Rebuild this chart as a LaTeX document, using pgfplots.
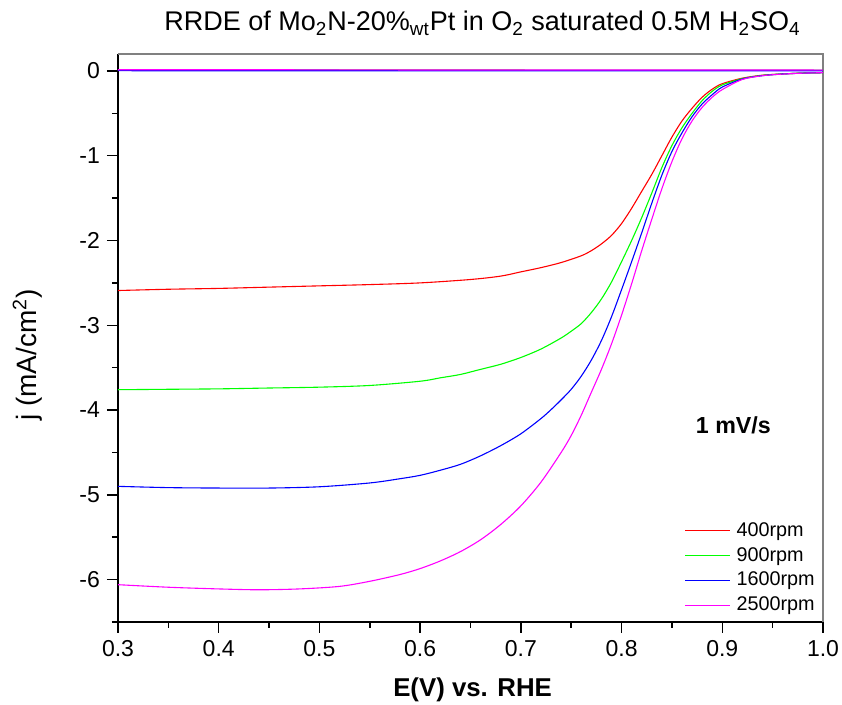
\documentclass[border=0pt]{standalone}
\usepackage{pgfplots}
\pgfplotsset{compat=1.18}
\usepackage{fontspec}
\setmainfont{Liberation Sans}
\definecolor{cred}{RGB}{255,0,0}
\definecolor{cgreen}{RGB}{0,255,0}
\definecolor{cblue}{RGB}{0,0,255}
\definecolor{cmag}{RGB}{255,0,255}
\begin{document}
\begin{tikzpicture}
\path[use as bounding box] (-59pt,-41.5pt) rectangle (362pt,311pt);
\begin{axis}[
  at={(0,0)}, anchor=south west,
  scale only axis, width=352.5pt, height=284pt,
  xmin=0.3, xmax=1.0, ymin=-6.5, ymax=0.2,
  axis x line=bottom, axis y line=left,
  x axis line style={-, line width=1pt},
  y axis line style={-, line width=1pt},
  xtick={0.3,0.4,0.5,0.6,0.7,0.8,0.9,1.0},
  minor xtick={0.35,0.45,0.55,0.65,0.75,0.85,0.95},
  ytick={-6,-5,-4,-3,-2,-1,0},
  minor ytick={-6.5,-5.5,-4.5,-3.5,-2.5,-1.5,-0.5},
  tick align=outside,
  major tick length=5.5pt, minor tick length=3pt,
  every tick/.append style={black, line width=0.75pt},
  tick label style={font=\fontsize{11.5}{13}\selectfont},
  /pgf/number format/assume math mode=true,
  xticklabel style={/pgf/number format/.cd, fixed, fixed zerofill, precision=1},
  yticklabel style={/pgf/number format/.cd, fixed, precision=1},
  xlabel={\bfseries E(V) vs. RHE},
  xlabel style={font=\fontsize{12.9}{15}\selectfont, at={(axis description cs:0.503,-0.12)}, anchor=center},
  ylabel={j (mA/cm\textsuperscript{2})},
  ylabel style={font=\fontsize{14}{16}\selectfont, at={(axis description cs:-0.128,0.47)}, anchor=center, rotate=0},
  clip mode=individual,
  legend cell align=left,
  legend style={draw=none, fill=none, at={(axis description cs:0.803,0.183)}, anchor=north west,
    font=\fontsize{9.9}{11.5}\selectfont, row sep=0pt, inner sep=0pt,
    /tikz/every odd column/.append style={column sep=1pt}},
  legend image code/.code={\draw[#1, line width=0.55pt] (0pt,0pt) -- (22.5pt,0pt);},
  every axis plot/.append style={line width=0.55pt},
]
\draw[gray, line width=0.7pt] (rel axis cs:0,1) -- (rel axis cs:1,1) -- (rel axis cs:1,0);

\addplot[cred, smooth] coordinates {
(0.30,-2.59) (0.35,-2.575) (0.40,-2.565) (0.45,-2.55) (0.50,-2.535) (0.55,-2.52)
(0.60,-2.50) (0.65,-2.46) (0.68,-2.42) (0.70,-2.37) (0.72,-2.32) (0.74,-2.26)
(0.76,-2.18) (0.77,-2.12) (0.78,-2.04) (0.79,-1.94) (0.80,-1.80) (0.81,-1.62)
(0.82,-1.42) (0.83,-1.22) (0.84,-1.00) (0.85,-0.78) (0.86,-0.59) (0.87,-0.44)
(0.88,-0.31) (0.89,-0.215) (0.90,-0.15) (0.92,-0.085) (0.94,-0.05) (0.96,-0.035)
(0.98,-0.025) (1.00,-0.02)};
\addlegendentry{400rpm}
\addplot[cgreen, smooth] coordinates {
(0.30,-3.76) (0.35,-3.755) (0.40,-3.75) (0.45,-3.74) (0.50,-3.73) (0.55,-3.71)
(0.60,-3.66) (0.62,-3.62) (0.64,-3.58) (0.66,-3.52) (0.68,-3.46) (0.70,-3.38)
(0.72,-3.28) (0.74,-3.15) (0.75,-3.07) (0.76,-2.98) (0.77,-2.85) (0.78,-2.69)
(0.79,-2.49) (0.80,-2.25) (0.81,-2.00) (0.82,-1.73) (0.83,-1.44) (0.84,-1.14)
(0.85,-0.88) (0.86,-0.67) (0.87,-0.50) (0.88,-0.35) (0.89,-0.24) (0.90,-0.165)
(0.92,-0.09) (0.94,-0.052) (0.96,-0.035) (0.98,-0.025) (1.00,-0.02)};
\addlegendentry{900rpm}
\addplot[cblue, smooth] coordinates {
(0.30,-4.90) (0.35,-4.915) (0.40,-4.92) (0.45,-4.92) (0.50,-4.905) (0.55,-4.86)
(0.58,-4.81) (0.60,-4.77) (0.62,-4.71) (0.64,-4.64) (0.66,-4.54) (0.68,-4.42)
(0.70,-4.28) (0.72,-4.10) (0.73,-3.995) (0.74,-3.88) (0.75,-3.755) (0.76,-3.60) (0.77,-3.41)
(0.78,-3.18) (0.79,-2.90) (0.80,-2.58) (0.81,-2.25) (0.82,-1.91) (0.83,-1.56)
(0.84,-1.23) (0.85,-0.95) (0.86,-0.73) (0.87,-0.54) (0.88,-0.39) (0.89,-0.28)
(0.90,-0.19) (0.92,-0.095) (0.94,-0.055) (0.96,-0.036) (0.98,-0.026) (1.00,-0.02)};
\addlegendentry{1600rpm}
\addplot[cmag, smooth] coordinates {
(0.30,-6.06) (0.35,-6.09) (0.40,-6.11) (0.44,-6.12) (0.48,-6.11) (0.52,-6.08)
(0.55,-6.02) (0.58,-5.94) (0.60,-5.87) (0.62,-5.78) (0.64,-5.67) (0.66,-5.53)
(0.68,-5.35) (0.70,-5.13) (0.72,-4.85) (0.74,-4.50) (0.75,-4.30) (0.76,-4.06)
(0.77,-3.79) (0.78,-3.52) (0.79,-3.22) (0.80,-2.88) (0.81,-2.51) (0.82,-2.12)
(0.83,-1.75) (0.84,-1.39) (0.85,-1.07) (0.86,-0.80) (0.87,-0.59) (0.88,-0.43)
(0.89,-0.31) (0.90,-0.22) (0.92,-0.10) (0.94,-0.056) (0.96,-0.037) (0.98,-0.026)
(1.00,-0.02)};
\addlegendentry{2500rpm}

\addplot[cred, forget plot] coordinates {(0.30,0.010) (0.65,0.008) (1.00,0.006)};
\addplot[cgreen, forget plot] coordinates {(0.30,0.010) (0.65,0.008) (1.00,0.006)};
\addplot[cblue, forget plot, line width=0.8pt] coordinates {(0.30,0.006) (0.65,0.004) (1.00,0.003)};
\addplot[cmag, forget plot, line width=0.6pt] coordinates {(0.30,0.014) (0.65,0.012) (1.00,0.010)};

\node[font=\bfseries\fontsize{11.6}{14}\selectfont] at (axis cs:0.911,-4.18) {1 mV/s};
\node[anchor=base, font=\fontsize{13.5}{16}\selectfont] at (rel axis cs:0.517,1.0405)
  {RRDE of Mo\textsubscript{2}N-20\%\textsubscript{wt}Pt in O\textsubscript{2} saturated 0.5M H\textsubscript{2}SO\textsubscript{4}};
\end{axis}
\end{tikzpicture}
\end{document}
